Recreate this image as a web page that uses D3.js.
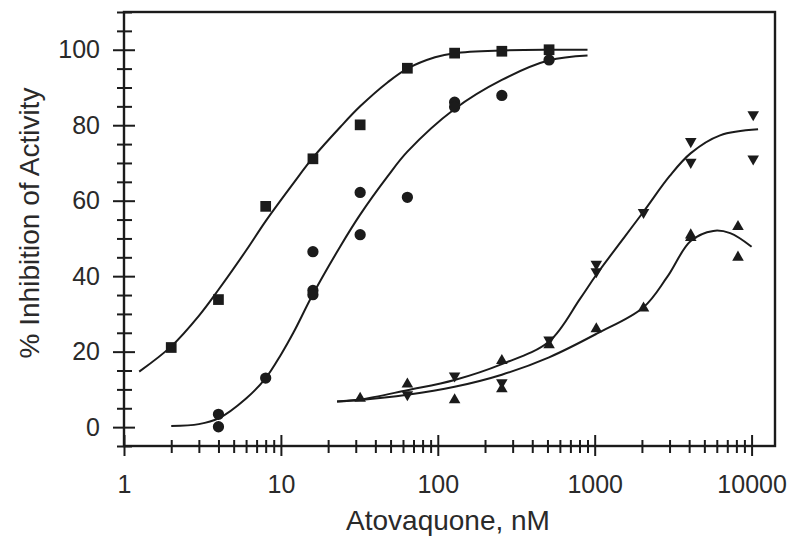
<!DOCTYPE html>
<html><head><meta charset="utf-8">
<script src="https://cdn.jsdelivr.net/npm/d3@7"></script>
<style>body{margin:0;background:#fff} svg{display:block}</style>
</head><body><svg id="c" width="800" height="550"></svg>
<script>
// ---- data ----
const xTickLabels = [1, 10, 100, 1000, 10000];
const yTickLabels = [0, 20, 40, 60, 80, 100];

// squares
const squareConc  = [2, 4, 8, 16, 32, 64, 128, 256, 512];
const squareInhib = [21.1, 33.8, 58.5, 71.1, 80.1, 95.1, 99.1, 99.6, 100];
// circles
const circleConc  = [4, 4, 8, 16, 16, 16, 32, 32, 64, 128, 128, 256, 512];
const circleInhib = [3.4, 0.1, 13, 46.5, 36.2, 35.1, 62.2, 51.0, 60.9, 86.1, 84.8, 87.9, 97.3];
// down triangles
const downConc  = [64, 128, 256, 512, 1024, 1024, 2048, 4096, 4096, 10240, 10240];
const downInhib = [8.6, 13.6, 11.8, 23.1, 43.2, 41.2, 56.9, 75.7, 70.2, 82.8, 71.1];
// up triangles
const upConc  = [32, 64, 128, 256, 256, 512, 1024, 2048, 4096, 4096, 8192, 8192];
const upInhib = [7.6, 11.4, 7.2, 17.6, 10.1, 21.8, 26.0, 31.5, 50.9, 50.2, 53.1, 45.0];

// fitted curves
const squareFitConc  = [1.25, 2, 3, 4, 6, 8, 12, 16, 24, 32, 48, 64, 96, 128, 256, 512, 900];
const squareFitInhib = [14.7, 21.4, 29.5, 36.4, 46.8, 54.6, 64.6, 71.4, 79.6, 85.0, 91.4, 95.0, 98.0, 99.1, 99.8, 100, 100];
const circleFitConc  = [2, 3, 4, 6, 8, 10, 12, 16, 24, 32, 48, 64, 128, 256, 512, 900];
const circleFitInhib = [0.3, 0.8, 2.3, 7.6, 13, 19.2, 25, 35.2, 48, 56.3, 66.5, 73.0, 84.3, 92, 97.2, 98.5];
const downFitConc  = [22.8, 32, 64, 128, 256, 512, 806, 1030, 2040, 3000, 4100, 6300, 11000];
const downFitInhib = [6.8, 7.3, 9.8, 12.5, 16.7, 22.7, 34, 40.5, 57, 66.5, 72.6, 77.3, 78.9];
const upFitConc  = [22.8, 32, 64, 128, 256, 512, 1024, 2040, 2900, 4090, 5700, 7300, 10000];
const upFitInhib = [6.8, 7.2, 8.6, 10.7, 13.9, 18.5, 24.7, 31.7, 39.8, 49.3, 52.0, 51.4, 47.8];

const xTitle = "Atovaquone, nM";
const yTitle = "% Inhibition of Activity";

// ---- drawing ----
const svg = d3.select("#c");
const L = 124, R = 775, T = 12, B = 446;
const x = d3.scaleLog().domain([1, 14100]).range([L, R]);
const y = d3.scaleLinear().domain([-5, 110]).range([B, T]);
const ink = "#1b1b1b";
const font = "'Liberation Sans', Arial, sans-serif";

// frame
svg.append("rect").attr("x", L).attr("y", T).attr("width", R - L).attr("height", B - T)
  .attr("fill", "none").attr("stroke", ink).attr("stroke-width", 2.4);

// x minor ticks
const xMinor = [];
for (let k = 0; k < 4; k++) for (let m = 2; m <= 9; m++) xMinor.push(m * Math.pow(10, k));
const gxm = svg.append("g").attr("transform", `translate(0,${B})`)
  .call(d3.axisBottom(x).tickValues(xMinor).tickFormat("").tickSizeOuter(0).tickSize(6));
gxm.select(".domain").remove();
gxm.selectAll("line").attr("y1", -6).attr("y2", 7).attr("stroke", ink).attr("stroke-width", 2);

const gx = svg.append("g").attr("transform", `translate(0,${B})`)
  .call(d3.axisBottom(x).tickValues(xTickLabels).tickFormat(d3.format("d")).tickSizeOuter(0).tickSize(10));
gx.select(".domain").remove();
gx.selectAll("line").attr("y1", -11).attr("y2", 10).attr("stroke", ink).attr("stroke-width", 2);
gx.selectAll("text").attr("y", 29).attr("font-size", 25).attr("font-family", font).attr("fill", "#2a2a2a");

// y minor ticks
const yMinor = d3.range(-5, 111, 5).filter(v => v % 20 !== 0 || v < 0 || v > 100);
const gym = svg.append("g").attr("transform", `translate(${L},0)`)
  .call(d3.axisLeft(y).tickValues(yMinor).tickFormat("").tickSizeOuter(0).tickSize(7));
gym.select(".domain").remove();
gym.selectAll("line").attr("x1", -7).attr("x2", 8).attr("stroke", ink).attr("stroke-width", 2);

const gy = svg.append("g").attr("transform", `translate(${L},0)`)
  .call(d3.axisLeft(y).tickValues(yTickLabels).tickFormat(d3.format("d")).tickSizeOuter(0).tickSize(11));
gy.select(".domain").remove();
gy.selectAll("line").attr("x1", -11).attr("x2", 11).attr("stroke", ink).attr("stroke-width", 2);
gy.selectAll("text").attr("x", -24).attr("font-size", 25).attr("font-family", font).attr("fill", "#2a2a2a");

// titles
svg.append("text").attr("x", 448).attr("y", 530).attr("text-anchor", "middle")
  .attr("font-size", 28).attr("font-family", font).attr("fill", "#2a2a2a").text(xTitle);
svg.append("text").attr("transform", "translate(39,223) rotate(-90)").attr("text-anchor", "middle")
  .attr("font-size", 28).attr("font-family", font).attr("fill", "#2a2a2a").text(yTitle);

// curves
const line = d3.line().x(d => x(d[0])).y(d => y(d[1])).curve(d3.curveCatmullRom.alpha(0.5));
const fits = [[squareFitConc, squareFitInhib], [circleFitConc, circleFitInhib],
              [downFitConc, downFitInhib], [upFitConc, upFitInhib]];
fits.forEach(([c, v]) => {
  svg.append("path").datum(c.map((d, i) => [d, v[i]])).attr("d", line)
    .attr("fill", "none").attr("stroke", ink).attr("stroke-width", 2);
});

// markers
function drawPoints(conc, inhib, type, size, rot) {
  const sym = d3.symbol().type(type).size(size);
  svg.append("g").selectAll("path").data(conc.map((d, i) => [d, inhib[i]])).join("path")
    .attr("d", sym)
    .attr("transform", d => `translate(${x(d[0])},${y(d[1])}) rotate(${rot})`)
    .attr("fill", ink);
}
drawPoints(squareConc, squareInhib, d3.symbolSquare, 115, 0);
drawPoints(circleConc, circleInhib, d3.symbolCircle, 100, 0);
drawPoints(downConc, downInhib, d3.symbolTriangle, 58, 180);
drawPoints(upConc, upInhib, d3.symbolTriangle, 58, 0);
</script></body></html>
